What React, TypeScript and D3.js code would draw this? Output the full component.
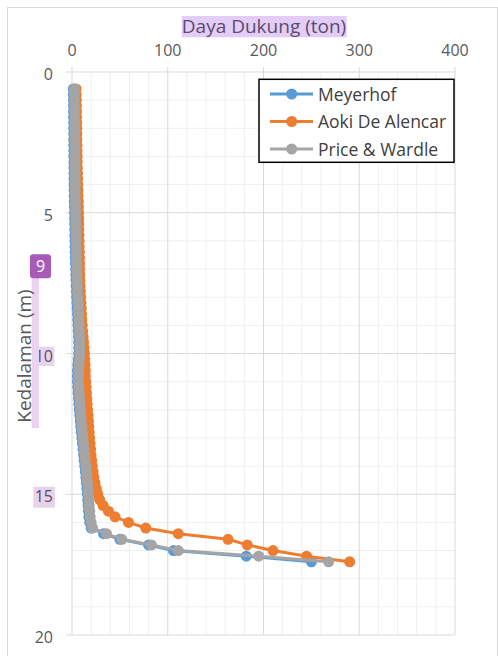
import React from "react";
import * as d3 from "d3";

const depth = [0.6,0.8,1.0,1.2,1.4,1.6,1.8,2.0,2.2,2.4,2.6,2.8,3.0,3.2,3.4,3.6,3.8,4.0,4.2,4.4,4.6,4.8,5.0,5.2,5.4,5.6,5.8,6.0,6.2,6.4,6.6,6.8,7.0,7.2,7.4,7.6,7.8,8.0,8.2,8.4,8.6,8.8,9.0,9.2,9.4,9.6,9.8,10.0,10.2,10.4,10.6,10.8,11.0,11.2,11.4,11.6,11.8,12.0,12.2,12.4,12.6,12.8,13.0,13.2,13.4,13.6,13.8,14.0,14.2,14.4,14.6,14.8,15.0,15.2,15.4,15.6,15.8,16.0,16.2,16.4,16.6,16.8,17.0,17.2,17.4];

const meyerhof = [1.4,1.4,1.5,1.5,1.6,1.6,1.7,1.7,1.8,1.8,1.8,1.9,1.9,2.0,2.0,2.1,2.1,2.2,2.2,2.3,2.4,2.5,2.6,2.7,2.8,2.9,3.0,3.1,3.2,3.3,3.4,3.6,3.8,4.0,4.2,4.4,4.6,4.8,5.1,5.4,5.7,6.0,6.3,6.6,6.8,7.0,7.1,7.0,6.6,6.1,5.8,5.6,5.7,6.0,6.4,6.8,7.2,7.6,8.1,8.6,9.1,9.7,10.3,10.9,11.5,12.1,12.7,13.3,13.9,14.5,15.0,15.5,16.0,16.4,16.8,17.2,17.6,18.5,20.0,33,50,80,106,182,250];

const aoki = [4.2,4.4,4.5,4.6,4.7,4.8,4.9,5.0,5.0,5.1,5.2,5.3,5.4,5.5,5.6,5.8,5.9,6.0,6.2,6.4,6.6,6.8,6.9,7.0,7.1,7.2,7.3,7.4,7.5,7.7,7.8,7.9,8.0,8.1,8.3,8.5,8.8,9.1,9.4,9.7,10.0,10.3,10.7,11.1,11.6,12.1,12.6,13.0,13.3,13.6,13.8,14.0,14.3,14.7,15.1,15.5,15.9,16.3,16.8,17.2,17.6,18.0,18.4,18.9,19.4,19.9,20.5,21.2,22.0,22.9,24.0,25.4,27.0,29.0,32.5,38,45,59,77,111,163,183,210,245,290];

const price = [2.6,2.6,2.7,2.7,2.8,2.8,2.9,2.9,3.0,3.0,3.0,3.1,3.1,3.2,3.2,3.3,3.3,3.4,3.4,3.5,3.6,3.7,3.8,3.9,4.0,4.1,4.2,4.3,4.4,4.5,4.6,4.8,5.0,5.2,5.4,5.6,5.8,6.0,6.3,6.6,6.9,7.2,7.5,7.8,8.0,8.2,8.3,8.2,7.8,7.3,7.0,6.8,6.9,7.2,7.6,8.0,8.4,8.8,9.3,9.8,10.3,10.9,11.5,12.1,12.7,13.3,13.9,14.5,15.1,15.7,16.2,16.7,17.2,17.6,18.0,18.5,19.0,20.0,21.5,36,52,83,111,195,268];

const seriesNames = ["Meyerhof", "Aoki De Alencar", "Price & Wardle"];
const seriesColors = ["#5b9bd5", "#ed7d31", "#a5a5a5"];
const seriesValues = [meyerhof, aoki, price];

const xTicks = [0, 100, 200, 300, 400];
const yTicks = [0, 5, 10, 15, 20];
const xTitle = "Daya Dukung (ton)";
const yTitle = "Kedalaman (m)";

const FONT = "'Open Sans', sans-serif";

export default function App() {
  const W = 498, H = 656;
  const x = d3.scaleLinear().domain([0, 400]).range([72, 455]);
  const y = d3.scaleLinear().domain([0, 20]).range([72, 635]);
  const xMinor = d3.range(0, 401, 20);
  const yMinor = d3.range(0, 21, 1);
  const line = d3.line<number>().x((v) => x(v)).y((_, i) => y(depth[i]));

  return (
    <svg width={W} height={H} style={{ position: "absolute", left: 0, top: 0, background: "#fff" }} fontFamily={FONT}>
      <rect x={0} y={0} width={W} height={H} fill="#fff" />
      <rect x={7.5} y={7.5} width={490} height={700} fill="#fff" stroke="#d9d9d9" strokeWidth={1} />
      {/* minor grid */}
      {xMinor.filter((v) => v % 100 !== 0).map((v) => (
        <line key={"xm" + v} x1={x(v)} x2={x(v)} y1={y(0)} y2={y(20)} stroke="#efefef" strokeWidth={1} />
      ))}
      {yMinor.filter((v) => v % 5 !== 0).map((v) => (
        <line key={"ym" + v} x1={x(0)} x2={x(400)} y1={y(v)} y2={y(v)} stroke="#efefef" strokeWidth={1} />
      ))}
      {/* major grid */}
      {xTicks.map((v) => (
        <line key={"xM" + v} x1={x(v)} x2={x(v)} y1={y(0) - 5} y2={y(20)} stroke="#d9d9d9" strokeWidth={1} />
      ))}
      {yTicks.map((v) => (
        <line key={"yM" + v} x1={x(0) - 6} x2={x(400)} y1={y(v)} y2={y(v)} stroke="#d9d9d9" strokeWidth={1} />
      ))}
      {/* axis labels */}
      {xTicks.map((v) => (
        <text key={"xt" + v} x={x(v)} y={56} textAnchor="middle" fontSize={16} fill="#595959">{v}</text>
      ))}
      {/* overlays on y labels */}
      <rect x={33.3} y={346.7} width={21} height={19.3} fill="#e8d3ec" />
      <rect x={33.3} y={486.7} width={21.7} height={21} fill="#e8d3ec" />
      {yTicks.map((v) => (
        <text key={"yt" + v} x={53} y={y(v) + 8} textAnchor="end" fontSize={16} fill={v === 10 || v === 15 ? "#5b4b6b" : "#595959"}>{v}</text>
      ))}
      {/* title highlight */}
      <rect x={181.7} y={16} width={165} height={21.3} fill="#e3cdf6" />
      <text x={264} y={33} textAnchor="middle" fontSize={19} fill="#5b4b6e">{xTitle}</text>
      {/* y title band */}
      <rect x={31.7} y={278} width={7.3} height={150} fill="#ead3ee" />
      <text transform={`translate(31,356) rotate(-90)`} textAnchor="middle" fontSize={19} fill="#595959">{yTitle}</text>
      {/* badge */}
      <rect x={30} y={254.3} width={21} height={24} rx={3} fill="#a75bb6" />
      <text x={40.5} y={272} textAnchor="middle" fontSize={16} fill="#fff">9</text>
      {/* series */}
      {seriesValues.map((vals, si) => (
        <g key={"s" + si}>
          <path d={line(vals) || ""} fill="none" stroke={seriesColors[si]} strokeWidth={3} />
          {vals.map((v, i) => (
            <circle key={i} cx={x(v)} cy={y(depth[i])} r={5.5} fill={seriesColors[si]} />
          ))}
        </g>
      ))}
      {/* legend */}
      <rect x={259} y={79.3} width={195} height={83} fill="#fff" stroke="#000" strokeWidth={1.5} />
      {seriesNames.map((n, i) => {
        const cy = 94 + i * 27.5;
        return (
          <g key={"l" + i}>
            <line x1={270} x2={313} y1={cy} y2={cy} stroke={seriesColors[i]} strokeWidth={3} />
            <circle cx={291.7} cy={cy} r={5.5} fill={seriesColors[i]} />
            <text x={318} y={cy + 6.5} fontSize={17.5} fill="#404040">{n}</text>
          </g>
        );
      })}
    </svg>
  );
}
